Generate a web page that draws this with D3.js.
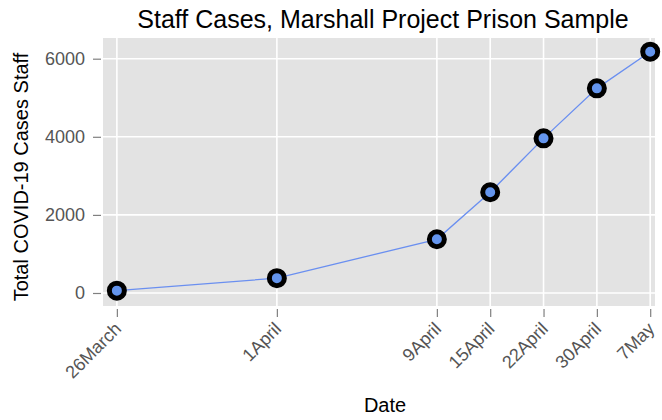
<!DOCTYPE html>
<html><head><meta charset="utf-8">
<script src="https://cdn.jsdelivr.net/npm/d3@7"></script>
<style>
body{margin:0;background:#fff;}
text{font-family:"Liberation Sans",Arial,sans-serif;}
</style></head>
<body><svg id="c" width="662" height="420"></svg>
<script>
const dateLabels = ["26March","1April","9April","15April","22April","30April","7May"];
const xPos = [1,4,7,8,9,10,11];
const staffCases = [60,380,1375,2580,3960,5240,6180];
const yTicks = [0,2000,4000,6000];

const W=662,H=420;
const m={l:103,r:7,t:38,b:114};
const svg=d3.select("#c");
const pw=W-m.l-m.r, ph=H-m.t-m.b;
const x=d3.scaleLinear().domain([0.74,11.09]).range([m.l,m.l+pw]);
const y=d3.scaleLinear().domain([-333,6530]).range([m.t+ph,m.t]);

svg.append("rect").attr("x",m.l).attr("y",m.t).attr("width",pw).attr("height",ph).attr("fill","#e3e3e3");

// grid
const g=svg.append("g");
g.selectAll(".hg").data(yTicks).join("line")
 .attr("x1",m.l).attr("x2",m.l+pw).attr("y1",d=>y(d)).attr("y2",d=>y(d))
 .attr("stroke","#fff").attr("stroke-width",1.6);
g.selectAll(".vg").data(xPos).join("line")
 .attr("y1",m.t).attr("y2",m.t+ph).attr("x1",d=>x(d)).attr("x2",d=>x(d))
 .attr("stroke","#fff").attr("stroke-width",1.6);

// y axis
const ya=svg.append("g").attr("transform",`translate(${m.l-2},0)`)
 .call(d3.axisLeft(y).tickValues(yTicks).tickSize(8).tickPadding(8).tickFormat(d3.format("d")));
ya.select(".domain").remove();
ya.selectAll("line").attr("stroke","#808080").attr("stroke-width",1.2);
ya.selectAll("text").attr("fill","#555").style("font-size","18px");

// x axis
const xa=svg.append("g").attr("transform",`translate(0,${m.t+ph+3})`)
 .call(d3.axisBottom(x).tickValues(xPos).tickSize(8).tickFormat((d,i)=>dateLabels[i]));
xa.select(".domain").remove();
xa.selectAll("line").attr("stroke","#808080").attr("stroke-width",1.2);
xa.selectAll("text").attr("fill","#555").style("font-size","18px")
 .attr("text-anchor","end").attr("dy","0").attr("y",0)
 .attr("transform","translate(5,21) rotate(-45)");

// line
const pts=xPos.map((v,i)=>[v,staffCases[i]]);
svg.append("path").datum(pts)
 .attr("d",d3.line().x(d=>x(d[0])).y(d=>y(d[1])))
 .attr("fill","none").attr("stroke","#6a8ff0").attr("stroke-width",1.3);
svg.selectAll(".pt").data(pts).join("circle")
 .attr("cx",d=>x(d[0])).attr("cy",d=>y(d[1])).attr("r",7.5)
 .attr("fill","#6495ed").attr("stroke","#000").attr("stroke-width",5);

// titles
svg.append("text").attr("x",m.l+pw/2+4).attr("y",28).attr("text-anchor","middle")
 .style("font-size","25px").attr("fill","#000").text("Staff Cases, Marshall Project Prison Sample");
svg.append("text").attr("x",m.l+pw/2+6).attr("y",412).attr("text-anchor","middle")
 .style("font-size","20px").attr("fill","#000").text("Date");
svg.append("text").attr("transform",`translate(28,${m.t+ph/2+5}) rotate(-90)`).attr("text-anchor","middle")
 .style("font-size","20px").attr("fill","#000").text("Total COVID-19 Cases Staff");
</script></body></html>
